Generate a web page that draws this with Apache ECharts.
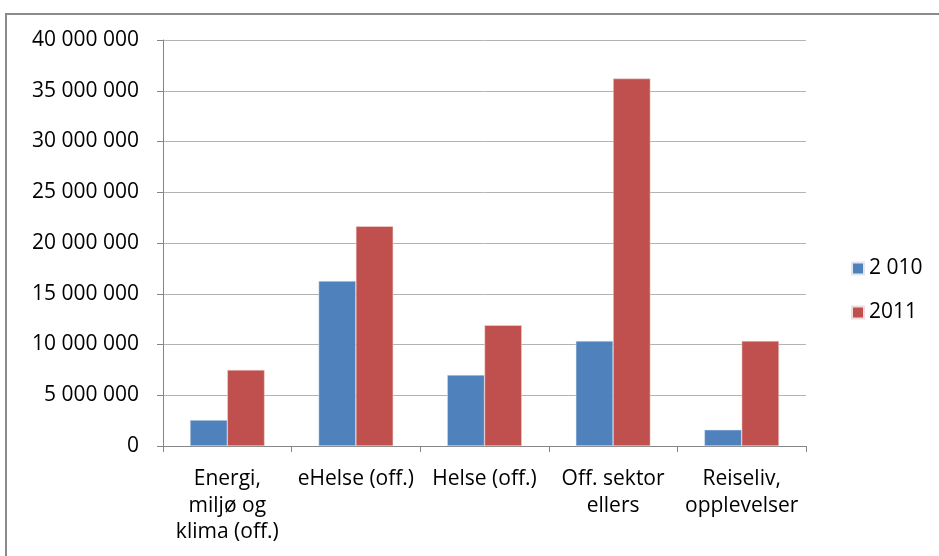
<!DOCTYPE html>
<html>
<head>
<meta charset="utf-8">
<script src="https://cdn.jsdelivr.net/npm/echarts@6/dist/echarts.min.js"></script>
<style>
html,body{margin:0;padding:0;background:#fff;}
#frame{position:absolute;left:5px;top:13px;width:960px;height:600px;border:2px solid #8a8a8a;box-sizing:border-box;}
#chart{position:absolute;left:0;top:0;width:939px;height:556px;}
</style>
</head>
<body>
<div id="frame"></div>
<div id="chart"></div>
<script>
const categories = ['Energi,\nmiljø og\nklima (off.)', 'eHelse (off.)', 'Helse (off.)', 'Off. sektor\nellers', 'Reiseliv,\nopplevelser'];
const seriesNames = ['2 010', '2011'];
const values2010 = [2550000, 16250000, 7000000, 10350000, 1600000];
const values2011 = [7500000, 21650000, 11900000, 36200000, 10350000];

const chart = echarts.init(document.getElementById('chart'));
const fontFamily = '"Open Sans", "Noto Sans", sans-serif';
chart.setOption({
  animation: false,
  backgroundColor: 'transparent',
  grid: {left: 163, right: 133, top: 40, bottom: 110, containLabel: false},
  legend: {
    orient: 'vertical', left: 846, top: 253, itemGap: 23,
    itemWidth: 12, itemHeight: 12, icon: 'rect',
    textStyle: {fontFamily: fontFamily, fontSize: 21, color: '#000'},
    data: seriesNames
  },
  xAxis: {
    type: 'category', data: categories,
    axisLine: {lineStyle: {color: '#868686', width: 1}},
    axisTick: {show: true, length: 6, lineStyle: {color: '#868686'}},
    axisLabel: {fontFamily: fontFamily, fontSize: 21, color: '#000', lineHeight: 26.5, margin: 20, interval: 0}
  },
  yAxis: {
    type: 'value', min: 0, max: 40000000, interval: 5000000,
    axisLine: {show: true, lineStyle: {color: '#868686', width: 1}},
    axisTick: {show: true, length: 6, lineStyle: {color: '#868686'}},
    splitLine: {lineStyle: {color: '#b3b3b3', width: 1}},
    axisLabel: {fontFamily: fontFamily, fontSize: 21, color: '#000', margin: 24,
      formatter: v => String(v).replace(/\B(?=(\d{3})+(?!\d))/g, ' ')}
  },
  series: [
    {name: seriesNames[0], type: 'bar', data: values2010, barGap: '0%', barCategoryGap: '42%',
     itemStyle: {color: '#4f81bd', borderColor: '#dfe6f0', borderWidth: 0.5}},
    {name: seriesNames[1], type: 'bar', data: values2011, barGap: '0%', barCategoryGap: '42%',
     itemStyle: {color: '#c0504d', borderColor: '#f0dcdc', borderWidth: 0.5}}
  ]
});
</script>
</body>
</html>
